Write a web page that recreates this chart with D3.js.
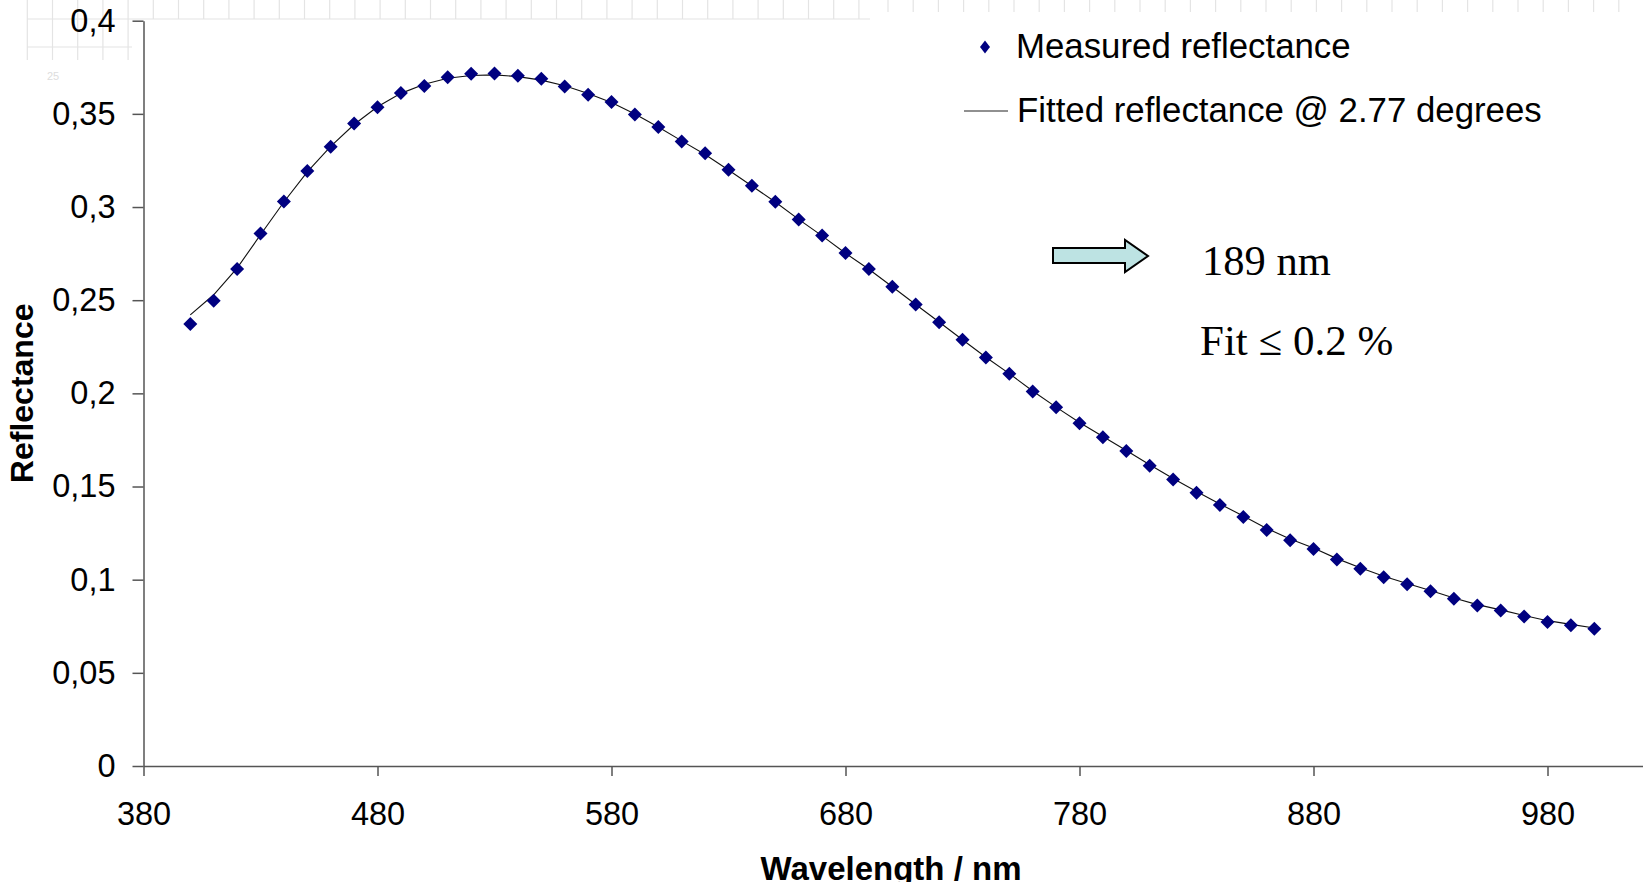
<!DOCTYPE html>
<html>
<head>
<meta charset="utf-8">
<script src="https://cdn.jsdelivr.net/npm/d3@7"></script>
<style>
  body { margin: 0; background: #fff; }
  svg { display: block; }
  .axis text { font-family: "Liberation Sans", Arial, sans-serif; font-size: 32.5px; fill: #000; }
</style>
</head>
<body>
<div id="chart"></div>
<script>
// data
var wavelengths = [400,410,420,430,440,450,460,470,480,490,500,510,520,530,540,550,560,570,580,590,
                   600,610,620,630,640,650,660,670,680,690,700,710,720,730,740,750,760,770,780,790,
                   800,810,820,830,840,850,860,870,880,890,900,910,920,930,940,950,960,970,980,990,1000];
var measured = [0.2372,0.2497,0.2667,0.2858,0.3030,0.3193,0.3324,0.3448,0.3535,0.3612,
                0.3649,0.3696,0.3715,0.3716,0.3705,0.3689,0.3647,0.3602,0.3563,0.3496,
                0.3429,0.3352,0.3288,0.3200,0.3114,0.3028,0.2933,0.2847,0.2753,0.2667,
                0.2572,0.2477,0.2382,0.2287,0.2192,0.2105,0.2010,0.1926,0.1840,0.1765,
                0.1690,0.1612,0.1537,0.1467,0.1401,0.1337,0.1267,0.1212,0.1165,0.1108,
                0.1059,0.1013,0.0976,0.0938,0.0897,0.0861,0.0834,0.0802,0.0773,0.0755,0.0736];
var fitted = [0.2421,0.2529,0.2672,0.2851,0.3027,0.3189,0.3326,0.3443,0.3538,0.3610,
              0.3659,0.3691,0.3706,0.3709,0.3700,0.3681,0.3651,0.3609,0.3561,0.3499,
              0.3430,0.3355,0.3282,0.3199,0.3113,0.3027,0.2934,0.2845,0.2752,0.2666,
              0.2572,0.2477,0.2383,0.2288,0.2194,0.2106,0.2013,0.1926,0.1844,0.1768,
              0.1693,0.1617,0.1543,0.1473,0.1406,0.1342,0.1275,0.1218,0.1170,0.1113,
              0.1064,0.1018,0.0980,0.0942,0.0902,0.0866,0.0838,0.0808,0.0780,0.0760,0.0741];
var xTicks = [380,480,580,680,780,880,980];
var yTicks = [0,0.05,0.1,0.15,0.2,0.25,0.3,0.35,0.4];
var yTickLabels = ["0","0,05","0,1","0,15","0,2","0,25","0,3","0,35","0,4"];
var legendLabels = ["Measured reflectance","Fitted reflectance @ 2.77 degrees"];
var notes = ["189 nm","Fit \u2264 0.2 %"];

// settings for window
var w = 1643;
var h = 882;
var padLeft = 143.5, padTop = 20.7, padBottom = 766;

var svg = d3.select("#chart").append("svg").attr("width",w).attr("height",h);

// faint grid left over from the scanned page
var scan = svg.append("g").attr("stroke","#e4e4e4").attr("stroke-width",1.2);
var gx = d3.range(27.3, 870, 25.2);
scan.selectAll("line.v").data(gx).enter().append("line")
    .attr("x1",function(d) { return d; }).attr("x2",function(d) { return d; })
    .attr("y1",0).attr("y2",function(d) { return d < 135 ? 60 : 19; });
scan.append("line").attr("x1",27).attr("x2",870).attr("y1",19).attr("y2",19);
scan.append("line").attr("x1",27).attr("x2",132).attr("y1",47).attr("y2",47);
scan.selectAll("line.t").data(d3.range(888, 1640, 25.2)).enter().append("line")
    .attr("x1",function(d) { return d; }).attr("x2",function(d) { return d; })
    .attr("y1",0).attr("y2",12);
svg.append("text").attr("x",47).attr("y",80).style("font-family","Liberation Sans, Arial").style("font-size","11px").style("fill","#ddd").text("25");

// scales (axis runs on past the right edge, as in the cropped original)
var xScale = d3.scaleLinear().domain([380,1080]).range([padLeft,padLeft+700*2.34]);
var yScale = d3.scaleLinear().domain([0,0.4]).range([padBottom,padTop]);

// axes
var xAxis = d3.axisBottom(xScale).tickValues(xTicks).tickSize(10).tickSizeOuter(0).tickPadding(26);
var yAxis = d3.axisLeft(yScale).tickValues(yTicks).tickSize(11).tickSizeOuter(0).tickPadding(17)
    .tickFormat(function(d,i) { return yTickLabels[i]; });

svg.append("g").attr("class","x axis").attr("transform","translate(0,"+padBottom+")").call(xAxis);
svg.append("g").attr("class","y axis").attr("transform","translate("+padLeft+",0)").call(yAxis);
svg.selectAll(".axis path, .axis line").attr("stroke","#555").attr("stroke-width",1.5);

// axis titles
svg.append("text").attr("x",891).attr("y",880).attr("text-anchor","middle")
    .style("font-family","Liberation Sans, Arial").style("font-weight","bold").style("font-size","33px").text("Wavelength / nm");
svg.append("text").attr("transform","translate(33,"+((padTop+padBottom)/2)+") rotate(-90)").attr("text-anchor","middle")
    .style("font-family","Liberation Sans, Arial").style("font-weight","bold").style("font-size","32px").text("Reflectance");

// fitted line
var line = d3.line().x(function(d,i) { return xScale(wavelengths[i]); }).y(function(d) { return yScale(d); });
svg.append("path").datum(fitted).attr("d",line).attr("fill","none").attr("stroke","#111").attr("stroke-width",1.1);

// measured points
var diamond = "M0,-7L7,0L0,7L-7,0Z";
svg.selectAll("path.pt").data(measured).enter().append("path").attr("class","pt")
    .attr("d",diamond)
    .attr("transform",function(d,i) { return "translate("+xScale(wavelengths[i])+","+yScale(d)+")"; })
    .attr("fill","#000080");

// legend
var leg = svg.append("g").style("font-family","Liberation Sans, Arial").style("font-size","34.8px");
leg.append("path").attr("d","M0,-6.5L5,0L0,6.5L-5,0Z").attr("transform","translate(985,47)").attr("fill","#000080");
leg.append("text").attr("x",1016).attr("y",58).text(legendLabels[0]);
leg.append("line").attr("x1",964).attr("x2",1008).attr("y1",111).attr("y2",111).attr("stroke","#222").attr("stroke-width",1.2);
leg.append("text").attr("x",1017).attr("y",122).text(legendLabels[1]);

// arrow and notes
svg.append("path")
    .attr("d","M1053,248L1125,248L1125,240L1148,256L1125,272L1125,263L1053,263Z")
    .attr("fill","#bde3e3").attr("stroke","#000").attr("stroke-width",2);
svg.append("text").attr("x",1202).attr("y",275).style("font-family","Liberation Serif, Times New Roman, serif").style("font-size","42.5px").text(notes[0]);
svg.append("text").attr("x",1200).attr("y",355).style("font-family","Liberation Serif, Times New Roman, serif").style("font-size","43px").text(notes[1]);
</script>
</body>
</html>
